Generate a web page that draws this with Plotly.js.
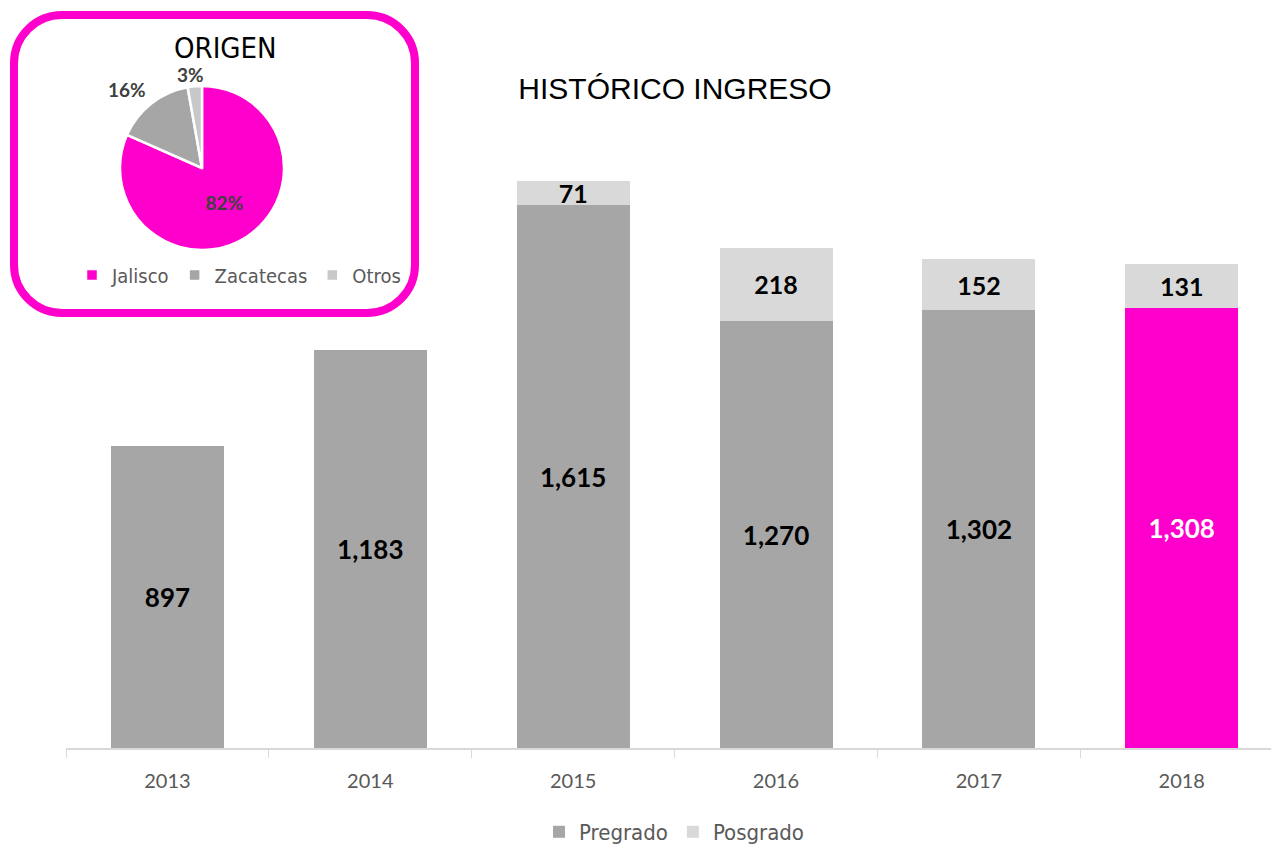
<!DOCTYPE html>
<html>
<head>
<meta charset="utf-8">
<script src="https://cdn.plot.ly/plotly-3.0.1.min.js"></script>
<style>
  html, body { margin: 0; padding: 0; background: #fff; }
  #chart { width: 1271px; height: 846px; }
</style>
</head>
<body>
<div id="chart"></div>
<script>
// ---- Data ----
const years = ['2013', '2014', '2015', '2016', '2017', '2018'];
const pregrado = [897, 1183, 1615, 1270, 1302, 1308];
const posgrado = [null, null, 71, 218, 152, 131];
const origenLabels = ['Jalisco', 'Zacatecas', 'Otros'];
const origenValues = [81.6, 15.6, 2.8];

// ---- Styling ----
const MAGENTA = '#FF00CC';
const GRAY = '#A6A6A6';
const LIGHT = '#D9D9D9';
const NARROW = '"Liberation Sans Narrow", "Arial Narrow", "DejaVu Sans Condensed", sans-serif';
const NUMF = 'Lato, "Open Sans", sans-serif';

const W = 1271, H = 846;
const M = {l: 66, r: 0, t: 0, b: 98, autoexpand: false};
const PW = W - M.l - M.r, PH = H - M.t - M.b;
const fx = px => (px - M.l) / PW;
const fy = py => 1 - (py - M.t) / PH;

const preColors = years.map((y, i) => i === years.length - 1 ? MAGENTA : GRAY);
const preTextColors = years.map((y, i) => i === years.length - 1 ? '#FFFFFF' : '#000000');

const origenSum = origenValues.reduce((a, b) => a + b, 0);
const pct = v => Math.round(v / origenSum * 100) + '%';

const traces = [
  {
    type: 'bar', name: 'Pregrado', x: years, y: pregrado,
    marker: {color: preColors},
    text: pregrado.map(v => v.toLocaleString('en-US')),
    textposition: 'inside', insidetextanchor: 'middle', constraintext: 'none', textangle: 0,
    textfont: {family: NUMF, size: 26, weight: 700, color: preTextColors},
    hoverinfo: 'skip', legend: 'legend'
  },
  {
    type: 'bar', name: 'Posgrado', x: years, y: posgrado,
    marker: {color: LIGHT},
    text: posgrado.map(v => v == null ? '' : v.toLocaleString('en-US')),
    textposition: 'inside', insidetextanchor: 'middle', constraintext: 'none', textangle: 0,
    textfont: {family: NUMF, size: 25, weight: 700, color: '#000000'},
    hoverinfo: 'skip', legend: 'legend'
  },
  {
    type: 'pie', labels: origenLabels, values: origenValues,
    sort: false, direction: 'clockwise', rotation: 0,
    marker: {colors: [MAGENTA, GRAY, '#C8C8C8'], line: {color: '#FFFFFF', width: 2.5}},
    texttemplate: '%{percent:.0%}',
    textposition: ['inside', 'none', 'none'],
    textfont: {family: NUMF, size: 19, weight: 700, color: '#404040'},
    insidetextorientation: 'horizontal',
    domain: {x: [fx(120), fx(284)], y: [fy(250), fy(86)]},
    hoverinfo: 'skip', legend: 'legend2', showlegend: true
  }
];

// rounded rectangle frame for the pie inset
const L = 14, R = 415, T = 15, B = 313, r = 48, k = 0.5523 * r;
const P = (x, y) => fx(x) + ',' + fy(y);
const framePath = 'M' + P(L + r, T) + ' L' + P(R - r, T) +
  ' C' + P(R - r + k, T) + ' ' + P(R, T + r - k) + ' ' + P(R, T + r) +
  ' L' + P(R, B - r) +
  ' C' + P(R, B - r + k) + ' ' + P(R - r + k, B) + ' ' + P(R - r, B) +
  ' L' + P(L + r, B) +
  ' C' + P(L + r - k, B) + ' ' + P(L, B - r + k) + ' ' + P(L, B - r) +
  ' L' + P(L, T + r) +
  ' C' + P(L, T + r - k) + ' ' + P(L + r - k, T) + ' ' + P(L + r, T) + ' Z';

const pieLabelFont = {family: NUMF, size: 19, weight: 700, color: '#404040'};

const layout = {
  width: W, height: H,
  margin: M,
  paper_bgcolor: '#FFFFFF', plot_bgcolor: '#FFFFFF',
  barmode: 'stack', bargap: 0.443,
  title: {
    text: 'HISTÓRICO INGRESO',
    font: {family: '"Liberation Sans", Arial, sans-serif', size: 30, color: '#000000'},
    x: 675 / W, xanchor: 'center', xref: 'container',
    y: 1 - 88 / H, yanchor: 'middle', yref: 'container'
  },
  xaxis: {
    type: 'category', range: [-0.5, 5.44], fixedrange: true, automargin: false,
    showline: true, linecolor: LIGHT, linewidth: 1.5,
    ticks: 'outside', tickson: 'boundaries', ticklen: 8, tickcolor: LIGHT, tickwidth: 1,
    tickfont: {family: NUMF, size: 20, color: '#595959'},
    ticklabelstandoff: 14,
    showgrid: false, zeroline: false
  },
  yaxis: {
    range: [0, 2225], visible: false, showgrid: false, zeroline: false, fixedrange: true
  },
  legend: {
    orientation: 'h', x: fx(674), xanchor: 'center', y: fy(832), yanchor: 'middle',
    font: {family: NARROW, size: 22, color: '#595959'},
    traceorder: 'normal', itemwidth: 30
  },
  legend2: {
    orientation: 'h', x: fx(72), xanchor: 'left', y: fy(275), yanchor: 'middle',
    font: {family: NARROW, size: 20, color: '#595959'},
    itemwidth: 30, bgcolor: 'rgba(0,0,0,0)'
  },
  shapes: [
    {type: 'path', xref: 'paper', yref: 'paper', path: framePath,
     line: {color: MAGENTA, width: 8}, fillcolor: 'rgba(0,0,0,0)', layer: 'above'}
  ],
  annotations: [
    {text: 'ORIGEN', xref: 'paper', yref: 'paper', x: fx(225), y: fy(48),
     xanchor: 'center', yanchor: 'middle', showarrow: false,
     font: {family: NARROW, size: 29, color: '#000000'}},
    {text: pct(origenValues[1]), xref: 'paper', yref: 'paper', x: fx(127), y: fy(89),
     xanchor: 'center', yanchor: 'middle', showarrow: false, font: pieLabelFont},
    {text: pct(origenValues[2]), xref: 'paper', yref: 'paper', x: fx(190), y: fy(75),
     xanchor: 'center', yanchor: 'middle', showarrow: false, font: pieLabelFont}
  ],
  showlegend: true
};

Plotly.newPlot('chart', traces, layout, {staticPlot: true, displayModeBar: false});
</script>
</body>
</html>
